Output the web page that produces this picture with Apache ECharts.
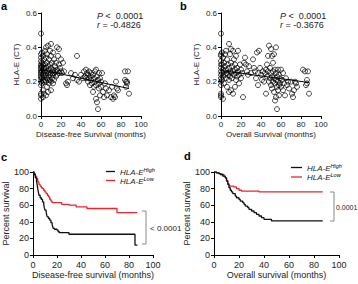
<!DOCTYPE html>
<html><head><meta charset="utf-8">
<script src="https://cdn.jsdelivr.net/npm/echarts@6/dist/echarts.min.js"></script>
<style>html,body{margin:0;padding:0;background:#fff}#c{width:358px;height:284px}</style>
</head><body><div id="c"></div>
<script>
// ---------- data ----------
const scatterYTicks = [0, 0.2, 0.4, 0.6];
const monthTicks = [0, 20, 40, 60, 80, 100];
const percentTicks = [0, 20, 40, 60, 80, 100];

const dfsPoints = [
[0,0.48],[0,0.36],[0,0.34],[0,0.32],[0,0.30],[0,0.29],[0,0.28],[0,0.27],[0,0.26],[0,0.25],[0,0.24],[0,0.23],[0,0.22],[0,0.20],[0,0.18],[0,0.13],[0,0.12],[0,0.10],
[1,0.37],[1,0.31],[1,0.29],[1,0.26],[1,0.22],[1,0.19],[2,0.35],[2,0.30],[2,0.27],[2,0.24],[2,0.21],[2,0.15],[2,0.11],[3,0.33],[3,0.28],[3,0.25],[3,0.23],[3,0.20],[3,0.13],
[4,0.38],[4,0.30],[4,0.26],[4,0.21],[5,0.40],[5,0.34],[5,0.28],[5,0.24],[5,0.20],[5,0.12],[6,0.36],[6,0.31],[6,0.26],[6,0.22],[6,0.17],[7,0.41],[7,0.29],[7,0.25],[7,0.21],[7,0.14],
[8,0.33],[8,0.27],[8,0.23],[8,0.19],[9,0.38],[9,0.30],[9,0.24],[9,0.21],[10,0.42],[10,0.35],[10,0.28],[10,0.25],[10,0.20],[10,0.15],[11,0.31],[11,0.26],[11,0.22],
[12,0.37],[12,0.27],[12,0.24],[12,0.19],[13,0.33],[13,0.25],[13,0.21],[14,0.29],[14,0.26],[15,0.31],[15,0.23],[16,0.40],[16,0.27],[16,0.24],[17,0.35],[17,0.26],
[18,0.39],[18,0.30],[18,0.25],[19,0.28],[20,0.33],[20,0.26],[21,0.25],[22,0.31],[23,0.26],[25,0.19],[26,0.18],[27,0.20],[30,0.25],[32,0.22],[34,0.24],[36,0.35],[36,0.21],
[38,0.20],[40,0.24],[42,0.22],[43,0.26],[44,0.23],[45,0.27],[45,0.22],[46,0.25],[47,0.24],[47,0.20],[48,0.26],[48,0.22],[49,0.18],[50,0.25],[50,0.23],[50,0.21],[51,0.19],
[52,0.24],[52,0.14],[53,0.22],[53,0.17],[54,0.26],[54,0.20],[55,0.27],[55,0.18],[55,0.10],[56,0.23],[56,0.08],[57,0.21],[57,0.04],[58,0.25],[58,0.19],[58,0.16],[59,0.22],
[59,0.12],[60,0.20],[60,0.17],[61,0.25],[62,0.14],[63,0.11],[64,0.19],[65,0.16],[66,0.12],[68,0.15],[70,0.11],[71,0.17],[72,0.10],[73,0.12],[74,0.11],[75,0.20],[76,0.16],
[77,0.15],[84,0.26],[84,0.21],[85,0.20],[86,0.19],[87,0.26],[88,0.13],[85,0.17],[86,0.20]
];
const dfsFit = [[0,0.27],[88,0.16]];

const osPoints = [
[0,0.48],[0,0.36],[0,0.35],[0,0.32],[0,0.30],[0,0.28],[0,0.26],[0,0.24],[0,0.22],[0,0.20],[0,0.18],[0,0.13],[0,0.12],[0,0.11],
[1,0.37],[1,0.30],[1,0.25],[1,0.21],[2,0.34],[2,0.27],[2,0.23],[2,0.10],[3,0.31],[3,0.26],[3,0.19],[4,0.36],[4,0.29],[4,0.24],[5,0.38],[5,0.27],[5,0.22],[6,0.33],[6,0.25],[6,0.17],
[7,0.30],[7,0.24],[8,0.42],[8,0.28],[8,0.21],[8,0.14],[9,0.36],[9,0.26],[9,0.23],[10,0.39],[10,0.31],[10,0.25],[10,0.15],[11,0.29],[11,0.22],[12,0.38],[12,0.26],[12,0.13],
[13,0.33],[13,0.24],[14,0.30],[14,0.27],[14,0.17],[15,0.35],[15,0.25],[15,0.21],[16,0.28],[16,0.23],[17,0.38],[17,0.26],[18,0.24],[18,0.19],[19,0.30],[20,0.27],[20,0.22],
[21,0.25],[22,0.11],[23,0.31],[24,0.34],[25,0.30],[26,0.26],[27,0.24],[28,0.29],[30,0.25],[32,0.33],[33,0.28],[34,0.26],[35,0.22],[36,0.37],[37,0.25],[37,0.18],[38,0.38],
[39,0.28],[40,0.24],[41,0.21],[42,0.26],[43,0.20],[44,0.25],[45,0.27],[45,0.13],[46,0.30],[46,0.23],[47,0.35],[47,0.26],[48,0.41],[48,0.20],[49,0.28],[49,0.22],[50,0.39],
[50,0.25],[50,0.18],[51,0.35],[51,0.23],[51,0.16],[52,0.31],[52,0.26],[52,0.20],[53,0.36],[53,0.22],[53,0.14],[54,0.27],[54,0.19],[54,0.09],[55,0.40],[55,0.25],[55,0.21],
[55,0.11],[56,0.23],[56,0.17],[56,0.04],[57,0.27],[57,0.20],[57,0.15],[58,0.24],[58,0.18],[58,0.12],[59,0.22],[59,0.19],[60,0.27],[60,0.17],[61,0.21],[62,0.15],[62,0.25],
[63,0.19],[64,0.12],[65,0.22],[66,0.18],[67,0.20],[68,0.16],[70,0.20],[71,0.13],[72,0.11],[73,0.15],[74,0.20],[75,0.19],[76,0.17],[82,0.27],[84,0.26],[85,0.18],[86,0.21],
[87,0.26],[88,0.13],[86,0.19]
];
const osFit = [[0,0.265],[88,0.195]];

const dfsHigh = [[0,100],[1,97],[2,93],[3,89],[3.5,85],[4,80],[4.5,76],[5,72],[6,69],[7,67],[8,64],[9,61],[9.5,57],[10,54],[11,52],[11.5,48],[12,46],[13,44],[14,42],[15,39],[16,37],[16.5,34],[17,32],[18,31],[20,30],[21,28],[22,27],[30,25],[85,12],[87,12]];
const dfsLow = [[0,100],[1,98],[2,95],[3,92],[4,88],[5,85],[6,83],[7,81],[8,80],[9,78],[10,76],[11,74],[12,72],[13,70],[14,67],[15,65],[16,63],[24,61],[30,60],[36,58],[45,56],[70,51],[87,51]];
const osHigh = [[0,100],[2,99],[4,98],[5,97],[7,95],[9,93],[10,89],[11,85],[12,81],[13,78],[14,76],[15,74],[17,71],[18,69],[20,67],[21,65],[23,63],[24,61],[25,59],[27,57],[28,55],[30,53],[32,51],[34,49],[36,47],[38,45],[40,43],[46,41],[87,41]];
const osLow = [[0,100],[2,99],[4,98],[6,97],[8,95],[9,93],[10,90],[11,86],[12,83],[16,82],[18,80],[20,78],[22,77],[36,76],[87,76]];

// ---------- chart ----------
const FF = '"Liberation Sans", Arial, sans-serif';
const TXT = '#222';
function range(t){return {min:t[0], max:t[t.length-1], interval:t[1]-t[0]};}
function axis(gi, ticks, name, fs, gap, lmargin, fmt){
  return Object.assign({type:'value', gridIndex:gi, name:name, nameLocation:'middle', nameGap:gap,
    nameTextStyle:{fontSize:fs, color:TXT, fontFamily:FF},
    axisLine:{show:true, onZero:false, lineStyle:{color:'#000', width:1}},
    axisTick:{show:true, length:3, lineStyle:{color:'#000', width:1}},
    axisLabel:{fontSize:fs, color:TXT, fontFamily:FF, margin:lmargin, formatter:fmt},
    splitLine:{show:false}}, range(ticks));
}
const chart = echarts.init(document.getElementById('c'), null, {renderer:'svg'});
const scatterStyle = {color:'rgba(0,0,0,0)', borderColor:'#000', borderWidth:0.9};
function sup(main, s){return '{m|'+main+'}{s|'+s+'}';}
const legRich = {m:{fontSize:8, fontStyle:'italic', fontFamily:FF, fill:TXT}, s:{fontSize:5.5, fontStyle:'italic', fontFamily:FF, verticalAlign:'top', padding:[0,0,5,0]}};

chart.setOption({
  animation:false,
  grid:[
    {left:41, top:13, width:100, height:103},
    {left:221, top:13, width:100, height:103},
    {left:29, top:172, width:124, height:83},
    {left:214, top:172, width:125, height:83}
  ],
  xAxis:[
    axis(0, monthTicks, 'Disease-free Survival (months)', 8, 14, 4),
    axis(1, monthTicks, 'Overall Survival (months)', 8, 14, 4),
    axis(2, monthTicks, 'Disease-free survival (months)', 9, 15, 5),
    axis(3, monthTicks, 'Overall survival (months)', 9, 15, 5)
  ],
  yAxis:[
    axis(0, scatterYTicks, 'HLA-E (CT)', 8, 21, 4, v=>v.toFixed(1)),
    axis(1, scatterYTicks, 'HLA-E (CT)', 8, 21, 4, v=>v.toFixed(1)),
    axis(2, percentTicks, 'Percent survival', 9, 18, 4),
    axis(3, percentTicks, 'Percent survival', 9, 18, 4)
  ],
  series:[
    {type:'scatter', xAxisIndex:0, yAxisIndex:0, data:dfsPoints, symbolSize:5, itemStyle:scatterStyle},
    {type:'line', xAxisIndex:0, yAxisIndex:0, data:dfsFit, showSymbol:false, lineStyle:{color:'#000', width:1}},
    {type:'scatter', xAxisIndex:1, yAxisIndex:1, data:osPoints, symbolSize:5, itemStyle:scatterStyle},
    {type:'line', xAxisIndex:1, yAxisIndex:1, data:osFit, showSymbol:false, lineStyle:{color:'#000', width:1}},
    {type:'line', step:'end', xAxisIndex:2, yAxisIndex:2, data:dfsLow, showSymbol:false, lineStyle:{color:'#e8262b', width:1.3}},
    {type:'line', step:'end', xAxisIndex:2, yAxisIndex:2, data:dfsHigh, showSymbol:false, lineStyle:{color:'#111', width:1.3}},
    {type:'line', step:'end', xAxisIndex:3, yAxisIndex:3, data:osLow, showSymbol:false, lineStyle:{color:'#e8262b', width:1.3}},
    {type:'line', step:'end', xAxisIndex:3, yAxisIndex:3, data:osHigh, showSymbol:false, lineStyle:{color:'#111', width:1.3}}
  ],
  graphic:[
    {type:'text', left:1, top:0, style:{text:'a', font:'bold 11px '+FF, fill:'#000'}},
    {type:'text', left:180, top:0, style:{text:'b', font:'bold 11px '+FF, fill:'#000'}},
    {type:'text', left:1, top:151, style:{text:'c', font:'bold 11px '+FF, fill:'#000'}},
    {type:'text', left:184, top:150, style:{text:'d', font:'bold 11px '+FF, fill:'#000'}},
    {type:'text', x:97, y:16, style:{text:'{i|P} <  0.0001', verticalAlign:'middle', fontSize:9, fontFamily:FF, fill:TXT, rich:{i:{fontStyle:'italic', fontSize:9, fontFamily:FF}}}},
    {type:'text', x:97, y:24.5, style:{text:'{i|r} = -0.4826', verticalAlign:'middle', fontSize:9, fontFamily:FF, fill:TXT, rich:{i:{fontStyle:'italic', fontSize:9, fontFamily:FF}}}},
    {type:'text', x:280, y:16, style:{text:'{i|P} <  0.0001', verticalAlign:'middle', fontSize:9, fontFamily:FF, fill:TXT, rich:{i:{fontStyle:'italic', fontSize:9, fontFamily:FF}}}},
    {type:'text', x:280, y:24.5, style:{text:'{i|r} = -0.3676', verticalAlign:'middle', fontSize:9, fontFamily:FF, fill:TXT, rich:{i:{fontStyle:'italic', fontSize:9, fontFamily:FF}}}},
    // legend c
    {type:'line', shape:{x1:106, y1:171.5, x2:115, y2:171.5}, style:{stroke:'#111', lineWidth:1.3}},
    {type:'line', shape:{x1:106, y1:180.5, x2:115, y2:180.5}, style:{stroke:'#e8262b', lineWidth:1.3}},
    {type:'text', x:120, y:172, style:{text:sup('HLA-E','High'), verticalAlign:'middle', rich:legRich}},
    {type:'text', x:120, y:181, style:{text:sup('HLA-E','Low'), verticalAlign:'middle', rich:legRich}},
    // legend d
    {type:'line', shape:{x1:291, y1:167.5, x2:302, y2:167.5}, style:{stroke:'#111', lineWidth:1.3}},
    {type:'line', shape:{x1:291, y1:177, x2:302, y2:177}, style:{stroke:'#e8262b', lineWidth:1.3}},
    {type:'text', x:307, y:168, style:{text:sup('HLA-E','High'), verticalAlign:'middle', rich:legRich}},
    {type:'text', x:307, y:177.5, style:{text:sup('HLA-E','Low'), verticalAlign:'middle', rich:legRich}},
    // brackets
    {type:'polyline', shape:{points:[[142,211],[146,211],[146,244],[142,244]]}, style:{stroke:'#888', fill:null, lineWidth:1}},
    {type:'text', x:150, y:228, style:{text:'< 0.0001', verticalAlign:'middle', fontSize:8, fontFamily:FF, fill:TXT}},
    {type:'polyline', shape:{points:[[330,192],[334,192],[334,221],[330,221]]}, style:{stroke:'#888', fill:null, lineWidth:1}},
    {type:'text', x:336, y:207, style:{text:'0.0001', verticalAlign:'middle', fontSize:7, fontFamily:FF, fill:TXT}}
  ]
});
</script></body></html>
